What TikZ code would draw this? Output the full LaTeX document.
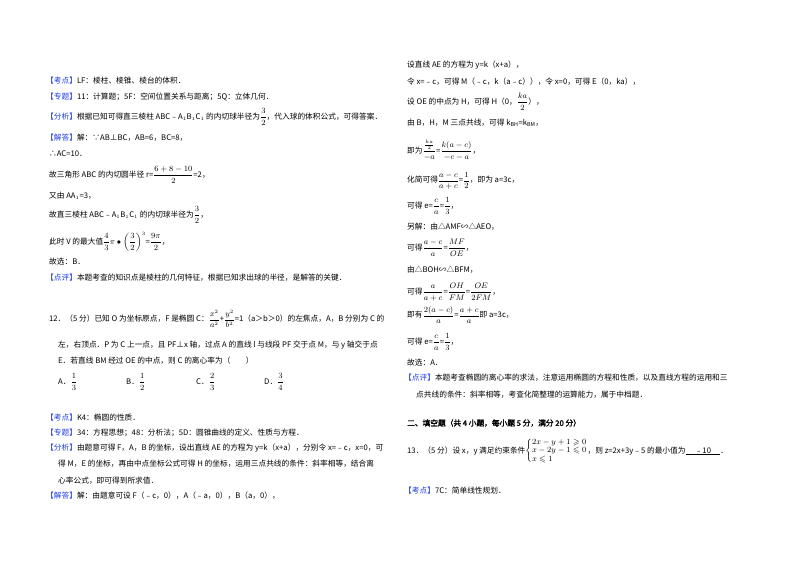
\documentclass[tikz,border=0pt]{standalone}
\usepackage{fontspec}
\usepackage{amssymb}
\setmainfont{Noto Sans CJK SC}[AutoFakeBold=2]
\definecolor{lbl}{RGB}{30,60,230}
\newcommand\lbx[1]{\textcolor{lbl}{【#1】}}
\everymath{\displaystyle}
\begin{document}
\begin{tikzpicture}[x=1pt,y=-1pt,
  t/.style={anchor=west,inner sep=0pt,font=\fontsize{7.7}{8.5}\selectfont}]
\useasboundingbox (0,0) rectangle (800,565);
% left column
\node[t] (l1) at (46,81) {\lbx{考点}LF：棱柱、棱锥、棱台的体积．};
\node[t] (l2) at (46,97) {\lbx{专题}11：计算题；5F：空间位置关系与距离；5Q：立体几何．};
\node[t] (l3) at (46,117) {\lbx{分析}根据已知可得直三棱柱 ABC﹣A$_1$B$_1$C$_1$ 的内切球半径为$\frac{3}{2}$，代入球的体积公式，可得答案．};
\node[t] (l4) at (46,138) {\lbx{解答}解：∵AB⊥BC，AB=6，BC=8，};
\node[t] (l5) at (49,154) {∴AC=10．};
\node[t] (l6) at (49,175) {故三角形 ABC 的内切圆半径 r=$\frac{6+8-10}{2}$=2，};
\node[t] (l7) at (49,196) {又由 AA$_1$=3，};
\node[t] (l8) at (49,215) {故直三棱柱 ABC﹣A$_1$B$_1$C$_1$ 的内切球半径为$\frac{3}{2}$，};
\node[t] (l9) at (49,242) {此时 V 的最大值$\frac{4}{3}\pi\bullet\left(\frac{3}{2}\right)^3$=$\frac{9\pi}{2}$，};
\node[t] (l10) at (49,262) {故选：B．};
\node[t] (l11) at (46,278) {\lbx{点评}本题考查的知识点是棱柱的几何特征，根据已知求出球的半径，是解答的关键．};
\node[t] (l12) at (49,319) {12．（5 分）已知 O 为坐标原点，F 是椭圆 C：$\frac{x^2}{a^2}$+$\frac{y^2}{b^2}$=1（a＞b＞0）的左焦点，A，B 分别为 C 的};
\node[t] (l13) at (58,345) {左，右顶点．P 为 C 上一点，且 PF⊥x 轴，过点 A 的直线 l 与线段 PF 交于点 M，与 y 轴交于点};
\node[t] (l14) at (58,361) {E．若直线 BM 经过 OE 的中点，则 C 的离心率为（\qquad ）};
\node[t] (oa) at (58,382) {A．$\frac{1}{3}$};
\node[t] (ob) at (126,382) {B．$\frac{1}{2}$};
\node[t] (oc) at (196,382) {C．$\frac{2}{3}$};
\node[t] (od) at (264,382) {D．$\frac{3}{4}$};
\node[t] (l15) at (46,418) {\lbx{考点}K4：椭圆的性质．};
\node[t] (l16) at (46,433) {\lbx{专题}34：方程思想；48：分析法；5D：圆锥曲线的定义、性质与方程．};
\node[t] (l17) at (46,448) {\lbx{分析}由题意可得 F，A，B 的坐标，设出直线 AE 的方程为 y=k（x+a），分别令 x=﹣c，x=0，可};
\node[t] (l18) at (58,464) {得 M，E 的坐标，再由中点坐标公式可得 H 的坐标，运用三点共线的条件：斜率相等，结合离};
\node[t] (l19) at (58,481) {心率公式，即可得到所求值．};
\node[t] (l20) at (46,496) {\lbx{解答}解：由题意可设 F（﹣c，0），A（﹣a，0），B（a，0），};
% right column
\node[t] (r1) at (407,65) {设直线 AE 的方程为 y=k（x+a），};
\node[t] (r2) at (407,82) {令 x=﹣c，可得 M（﹣c，k（a﹣c）），令 x=0，可得 E（0，ka），};
\node[t] (r3) at (407,102) {设 OE 的中点为 H，可得 H（0，$\frac{ka}{2}$），};
\node[t] (r4) at (407,123) {由 B，H，M 三点共线，可得 k$_{\mathrm{BH}}$=k$_{\mathrm{BM}}$，};
\node[t] (r5) at (407,150) {即为$\frac{\frac{ka}{2}}{-a}$=$\frac{k(a-c)}{-c-a}$，};
\node[t] (r6) at (407,181) {化简可得$\frac{a-c}{a+c}$=$\frac{1}{2}$，即为 a=3c，};
\node[t] (r7) at (407,206) {可得 e=$\frac{c}{a}$=$\frac{1}{3}$，};
\node[t] (r8) at (407,227) {另解：由△AMF∽△AEO，};
\node[t] (r9) at (407,248) {可得$\frac{a-c}{a}$=$\frac{MF}{OE}$，};
\node[t] (r10) at (407,270) {由△BOH∽△BFM，};
\node[t] (r11) at (407,292) {可得$\frac{a}{a+c}$=$\frac{OH}{FM}$=$\frac{OE}{2FM}$，};
\node[t] (r12) at (407,315) {即有$\frac{2(a-c)}{a}$=$\frac{a+c}{a}$即 a=3c，};
\node[t] (r13) at (407,342) {可得 e=$\frac{c}{a}$=$\frac{1}{3}$，};
\node[t] (r14) at (407,363) {故选：A．};
\node[t] (r15) at (404,378) {\lbx{点评}本题考查椭圆的离心率的求法，注意运用椭圆的方程和性质，以及直线方程的运用和三};
\node[t] (r16) at (416,395) {点共线的条件：斜率相等，考查化简整理的运算能力，属于中档题．};
\node[t] (r17) at (407,423) {\bfseries 二、填空题（共 4 小题，每小题 5 分，满分 20 分）};
\node[t] (r18) at (407,451) {13．（5 分）设 x，y 满足约束条件$\left\{\begin{array}{@{}l@{}}2x-y+1\geqslant0\\ x-2y-1\leqslant0\\ x\leqslant1\end{array}\right.$，则 z=2x+3y﹣5 的最小值为\underline{\hspace{1.2em}﹣10\hspace{1.2em}}．};
\node[t] (r19) at (404,491) {\lbx{考点}7C：简单线性规划．};
\end{tikzpicture}
\end{document}
